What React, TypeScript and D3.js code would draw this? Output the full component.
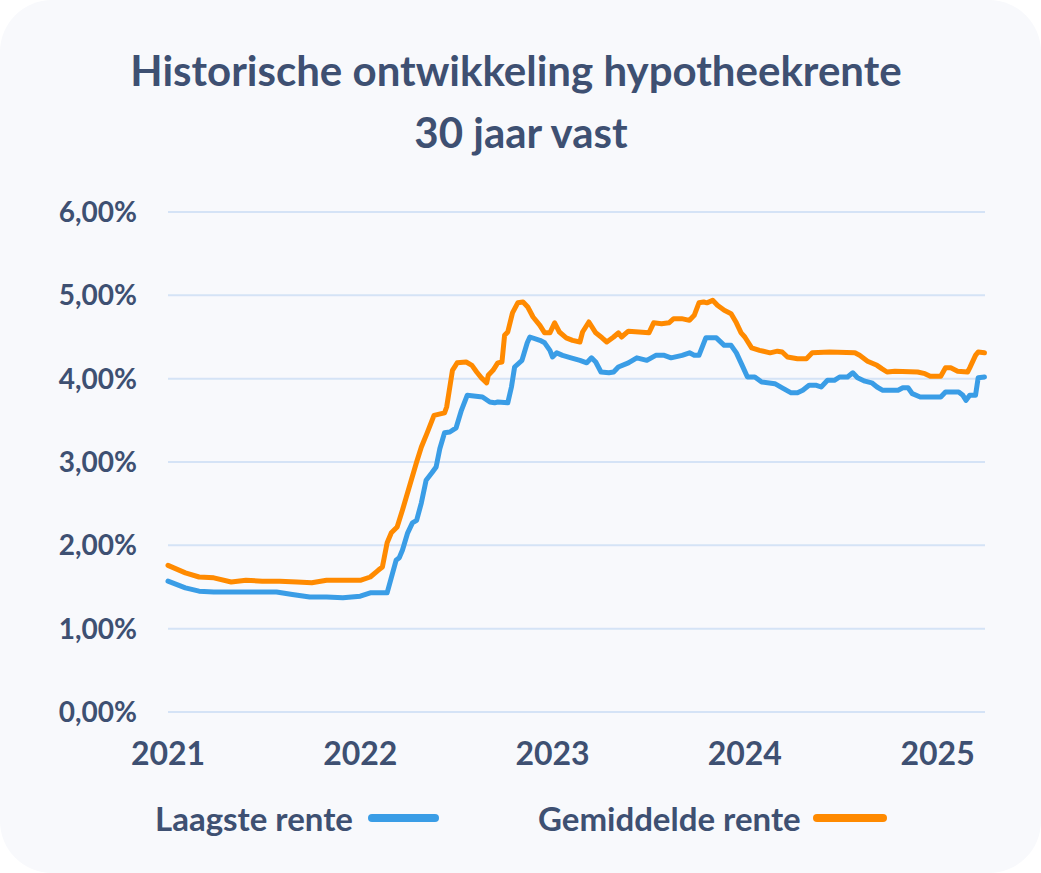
import * as d3 from 'd3';

// Laagste rente (lowest rate), 30 years fixed
const laagsteDates = [
  '2021-01-01', '2021-02-03', '2021-03-01', '2021-03-29', '2021-07-26', '2021-08-25', '2021-09-27',
  '2021-10-29', '2021-11-29', '2022-01-01', '2022-01-20', '2022-02-21', '2022-03-10', '2022-03-16',
  '2022-03-22', '2022-04-01', '2022-04-10', '2022-04-18', '2022-04-27', '2022-05-06', '2022-05-17',
  '2022-05-25', '2022-06-01', '2022-06-10', '2022-06-20', '2022-07-02', '2022-07-12', '2022-07-23',
  '2022-08-21', '2022-09-04', '2022-09-13', '2022-09-19', '2022-10-08', '2022-10-15', '2022-10-21',
  '2022-11-04', '2022-11-14', '2022-11-19', '2022-12-08', '2022-12-17', '2022-12-27', '2023-01-01',
  '2023-01-09', '2023-01-20', '2023-02-05', '2023-02-22', '2023-03-07', '2023-03-16', '2023-03-24',
  '2023-04-03', '2023-04-18', '2023-04-27', '2023-05-06', '2023-05-25', '2023-06-10', '2023-06-29',
  '2023-07-16', '2023-08-01', '2023-08-14', '2023-09-04', '2023-09-18', '2023-09-27', '2023-10-06',
  '2023-10-19', '2023-11-08', '2023-11-23', '2023-12-06', '2023-12-16', '2023-12-27', '2024-01-06',
  '2024-01-20', '2024-02-02', '2024-02-27', '2024-03-12', '2024-03-29', '2024-04-10', '2024-04-20',
  '2024-05-02', '2024-05-16', '2024-05-25', '2024-06-06', '2024-06-19', '2024-06-29', '2024-07-14',
  '2024-07-24', '2024-08-02', '2024-08-16', '2024-08-29', '2024-09-08', '2024-09-19', '2024-10-18',
  '2024-10-27', '2024-11-06', '2024-11-14', '2024-11-29', '2025-01-07', '2025-01-16', '2025-02-10',
  '2025-02-18', '2025-02-24', '2025-03-03', '2025-03-14', '2025-03-19', '2025-03-31',
];
const laagsteValues = [
  1.57, 1.49, 1.45, 1.44, 1.44, 1.41, 1.38,
  1.38, 1.37, 1.39, 1.43, 1.43, 1.82, 1.85,
  1.94, 2.15, 2.27, 2.30, 2.51, 2.78, 2.87,
  2.94, 3.16, 3.35, 3.36, 3.41, 3.62, 3.80,
  3.78, 3.72, 3.71, 3.72, 3.71, 3.90, 4.14,
  4.22, 4.43, 4.50, 4.46, 4.43, 4.34, 4.26,
  4.31, 4.28, 4.25, 4.22, 4.19, 4.25, 4.20,
  4.08, 4.07, 4.08, 4.14, 4.19, 4.25, 4.22,
  4.28, 4.28, 4.25, 4.28, 4.31, 4.28, 4.28,
  4.49, 4.49, 4.40, 4.40, 4.31, 4.16, 4.02,
  4.02, 3.96, 3.94, 3.89, 3.83, 3.83, 3.86,
  3.92, 3.92, 3.90, 3.98, 3.98, 4.02, 4.02,
  4.07, 4.01, 3.97, 3.95, 3.90, 3.86, 3.86,
  3.89, 3.89, 3.82, 3.78, 3.78, 3.84, 3.84,
  3.80, 3.74, 3.80, 3.80, 4.01, 4.02,
];

// Gemiddelde rente (average rate), 30 years fixed
const gemiddeldeDates = [
  '2021-01-01', '2021-02-03', '2021-03-01', '2021-03-29', '2021-05-01', '2021-05-29', '2021-06-29',
  '2021-08-01', '2021-09-03', '2021-10-01', '2021-10-29', '2022-01-01', '2022-01-20', '2022-02-04',
  '2022-02-12', '2022-02-21', '2022-03-01', '2022-03-12', '2022-03-22', '2022-04-04', '2022-04-18',
  '2022-04-27', '2022-05-08', '2022-05-21', '2022-06-10', '2022-06-14', '2022-06-25', '2022-07-04',
  '2022-07-21', '2022-08-01', '2022-08-10', '2022-08-19', '2022-08-29', '2022-09-01', '2022-09-10',
  '2022-09-19', '2022-09-27', '2022-10-02', '2022-10-08', '2022-10-17', '2022-10-27', '2022-11-06',
  '2022-11-15', '2022-11-25', '2022-12-08', '2022-12-17', '2022-12-27', '2023-01-05', '2023-01-14',
  '2023-01-27', '2023-02-08', '2023-02-22', '2023-02-27', '2023-03-11', '2023-03-24', '2023-04-05',
  '2023-04-14', '2023-04-27', '2023-05-06', '2023-05-12', '2023-05-25', '2023-06-14', '2023-07-03',
  '2023-07-12', '2023-07-27', '2023-08-10', '2023-08-19', '2023-09-03', '2023-09-18', '2023-09-27',
  '2023-10-06', '2023-10-15', '2023-10-21', '2023-11-01', '2023-11-10', '2023-11-23', '2023-12-06',
  '2023-12-16', '2023-12-25', '2024-01-01', '2024-01-14', '2024-01-29', '2024-02-18', '2024-03-03',
  '2024-03-12', '2024-03-22', '2024-04-10', '2024-04-27', '2024-05-08', '2024-06-10', '2024-07-28',
  '2024-08-06', '2024-08-21', '2024-09-08', '2024-09-17', '2024-09-27', '2024-10-12', '2024-11-24',
  '2024-12-08', '2024-12-18', '2025-01-07', '2025-01-16', '2025-01-26', '2025-02-08', '2025-02-27',
  '2025-03-03', '2025-03-14', '2025-03-19', '2025-03-31',
];
const gemiddeldeValues = [
  1.76, 1.67, 1.62, 1.61, 1.56, 1.58, 1.57,
  1.57, 1.56, 1.55, 1.58, 1.58, 1.62, 1.70,
  1.74, 2.03, 2.15, 2.22, 2.42, 2.70, 3.00,
  3.18, 3.35, 3.56, 3.59, 3.66, 4.10, 4.19,
  4.20, 4.16, 4.08, 4.01, 3.95, 4.04, 4.10,
  4.19, 4.20, 4.52, 4.56, 4.79, 4.91, 4.92,
  4.86, 4.74, 4.64, 4.55, 4.55, 4.67, 4.56,
  4.49, 4.46, 4.44, 4.56, 4.68, 4.55, 4.49,
  4.44, 4.50, 4.55, 4.50, 4.57, 4.56, 4.55,
  4.67, 4.66, 4.67, 4.72, 4.72, 4.70, 4.76,
  4.91, 4.92, 4.91, 4.94, 4.88, 4.82, 4.78,
  4.67, 4.55, 4.50, 4.37, 4.34, 4.31, 4.33,
  4.32, 4.26, 4.24, 4.24, 4.31, 4.32, 4.31,
  4.28, 4.21, 4.16, 4.12, 4.08, 4.09, 4.08,
  4.06, 4.03, 4.03, 4.13, 4.13, 4.09, 4.08,
  4.13, 4.28, 4.32, 4.31,
];

const yTicks = [0, 1, 2, 3, 4, 5, 6];
const xTickYears = ['2021', '2022', '2023', '2024', '2025'];
const titleLines = ['Historische ontwikkeling hypotheekrente', '30 jaar vast'];
const seriesNames = ['Laagste rente', 'Gemiddelde rente'];
const seriesColors = ['#3a9de6', '#ff8a00'];

const W = 1041;
const H = 873;
const TEXT = '#3e5072';
const FONT = 'Lato, "Open Sans", sans-serif';

const parse = d3.timeParse('%Y-%m-%d');

export default function App() {
  const margin = { left: 168, right: 56, top: 212, bottom: 161 };
  const x = d3
    .scaleTime()
    .domain([parse('2021-01-01')!, parse('2025-04-01')!])
    .range([margin.left, W - margin.right]);
  const y = d3.scaleLinear().domain([0, 6]).range([H - margin.bottom, margin.top]);

  const line = d3
    .line<[Date, number]>()
    .x(d => x(d[0]))
    .y(d => y(d[1]));

  const series = [
    laagsteDates.map((d, i) => [parse(d)!, laagsteValues[i]] as [Date, number]),
    gemiddeldeDates.map((d, i) => [parse(d)!, gemiddeldeValues[i]] as [Date, number]),
  ];

  const fmt = (v: number) => v.toFixed(2).replace('.', ',') + '%';

  return (
    <svg
      width={W}
      height={H}
      style={{ position: 'absolute', left: 0, top: 0, display: 'block' }}
      fontFamily={FONT}
    >
      <rect x={0} y={0} width={W} height={H} fill="#ffffff" />
      <rect x={0} y={0} width={W} height={H} rx={52} ry={52} fill="#f8f9fc" />

      {titleLines.map((t, i) => (
        <text
          key={t}
          x={516 + i * 5}
          y={86 + i * 62}
          textAnchor="middle"
          fontSize={42}
          fontWeight={700}
          fill={TEXT}
        >
          {t}
        </text>
      ))}

      {yTicks.map(t => (
        <g key={t}>
          <line
            x1={margin.left}
            x2={W - margin.right}
            y1={y(t)}
            y2={y(t)}
            stroke="#d5e3f6"
            strokeWidth={2}
          />
          <text
            x={137}
            y={y(t) + 10}
            textAnchor="end"
            fontSize={28}
            fontWeight={700}
            fill={TEXT}
          >
            {fmt(t)}
          </text>
        </g>
      ))}

      {xTickYears.map(yr => (
        <text
          key={yr}
          x={x(parse(`${yr}-01-01`)!)}
          y={765}
          textAnchor="middle"
          fontSize={32}
          fontWeight={700}
          fill={TEXT}
        >
          {yr}
        </text>
      ))}

      {series.map((s, i) => (
        <path
          key={seriesNames[i]}
          d={line(s) ?? ''}
          fill="none"
          stroke={seriesColors[i]}
          strokeWidth={5}
          strokeLinejoin="round"
          strokeLinecap="round"
        />
      ))}

      {/* legend */}
      <g>
        <text x={155} y={831} fontSize={33} fontWeight={700} fill={TEXT}>
          {seriesNames[0]}
        </text>
        <line x1={372} x2={435} y1={818} y2={818} stroke={seriesColors[0]} strokeWidth={8} strokeLinecap="round" />
        <text x={538} y={831} fontSize={33} fontWeight={700} fill={TEXT}>
          {seriesNames[1]}
        </text>
        <line x1={817} x2={883} y1={818} y2={818} stroke={seriesColors[1]} strokeWidth={8} strokeLinecap="round" />
      </g>
    </svg>
  );
}
